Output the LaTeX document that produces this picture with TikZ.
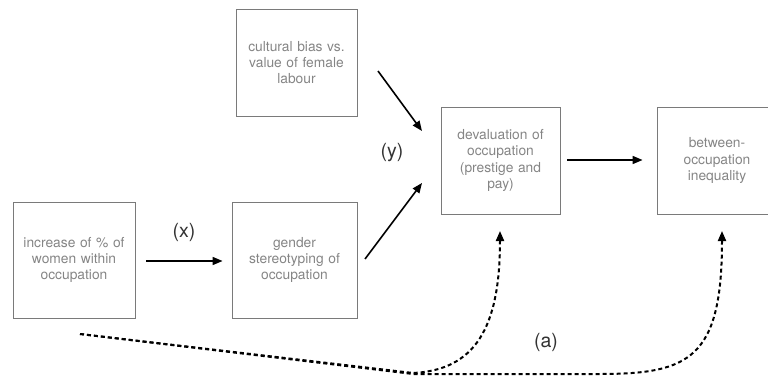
\documentclass[tikz,border=0pt]{standalone}
\usepackage{fontspec}
\setmainfont{TeX Gyre Heros}
\usetikzlibrary{arrows.meta}
\definecolor{boxtext}{HTML}{858585}
\definecolor{boxline}{HTML}{7A7A7A}
\definecolor{labtext}{HTML}{333333}
\begin{document}
\begin{tikzpicture}[x=1pt,y=1pt,
  box/.style={draw=boxline,line width=0.9pt,rectangle,inner sep=0pt,align=center,
    text=boxtext,font=\fontsize{13.8}{16.2}\selectfont,text width=#1},
  box/.default=115pt,
  arr/.style={line width=1.6pt,-{Triangle[length=10pt,width=8pt]}},
  darr/.style={line width=2pt,dash pattern=on 4pt off 3pt,-{Triangle[length=10pt,width=8pt]}},
  lab/.style={text=labtext,font=\fontsize{19.5}{22}\selectfont,inner sep=0pt}]
\useasboundingbox (0,0) rectangle (768,378);
\node[box, minimum width=122pt, minimum height=116pt] (b1) at (74,118) {increase of \% of\\women within\\occupation};
\node[box, minimum width=125pt, minimum height=116pt] (b2) at (294.5,118) {gender\\stereotyping of\\occupation};
\node[box, minimum width=121pt, minimum height=107pt] (b3) at (296.5,315.5) {cultural bias vs.\\value of female\\labour};
\node[box, minimum width=119pt, minimum height=107pt] (b4) at (500.5,217.5) {devaluation of\\occupation\\(prestige and\\pay)};
\node[box, minimum width=120pt, minimum height=107pt] (b5) at (717,217.5) {between-\\occupation\\inequality};
\node[lab] (lx) at (184,146) {(x)};
\node[lab] (ly) at (392,225) {(y)};
\node[lab] (la) at (546,36) {(a)};
\coordinate (c3s) at (378,307);
\coordinate (c3e) at (422,247);
\coordinate (c2s) at (365,119);
\coordinate (c2e) at (422,195);
\coordinate (ds) at (80,44);
\coordinate (dm) at (413,5);
\coordinate (dm2) at (413,4);
\coordinate (dr) at (600,4);
\coordinate (e4) at (500,147);
\coordinate (e5) at (722,147);
\draw[arr, shorten <=11pt, shorten >=9pt] (b1.east |- 0,117) -- (b2.west |- 0,117);
\draw[arr] (c3s) -- (c3e);
\draw[arr] (c2s) -- (c2e);
\draw[arr, shorten <=7pt, shorten >=14pt] (b4.east |- 0,218) -- (b5.west |- 0,218);
\draw[darr] (ds) -- (dm) .. controls (475,8) and (500,50) .. (e4);
\draw[darr] (ds) -- (dm2) -- (dr) .. controls (690,4) and (722,20) .. (e5);
\end{tikzpicture}
\end{document}
